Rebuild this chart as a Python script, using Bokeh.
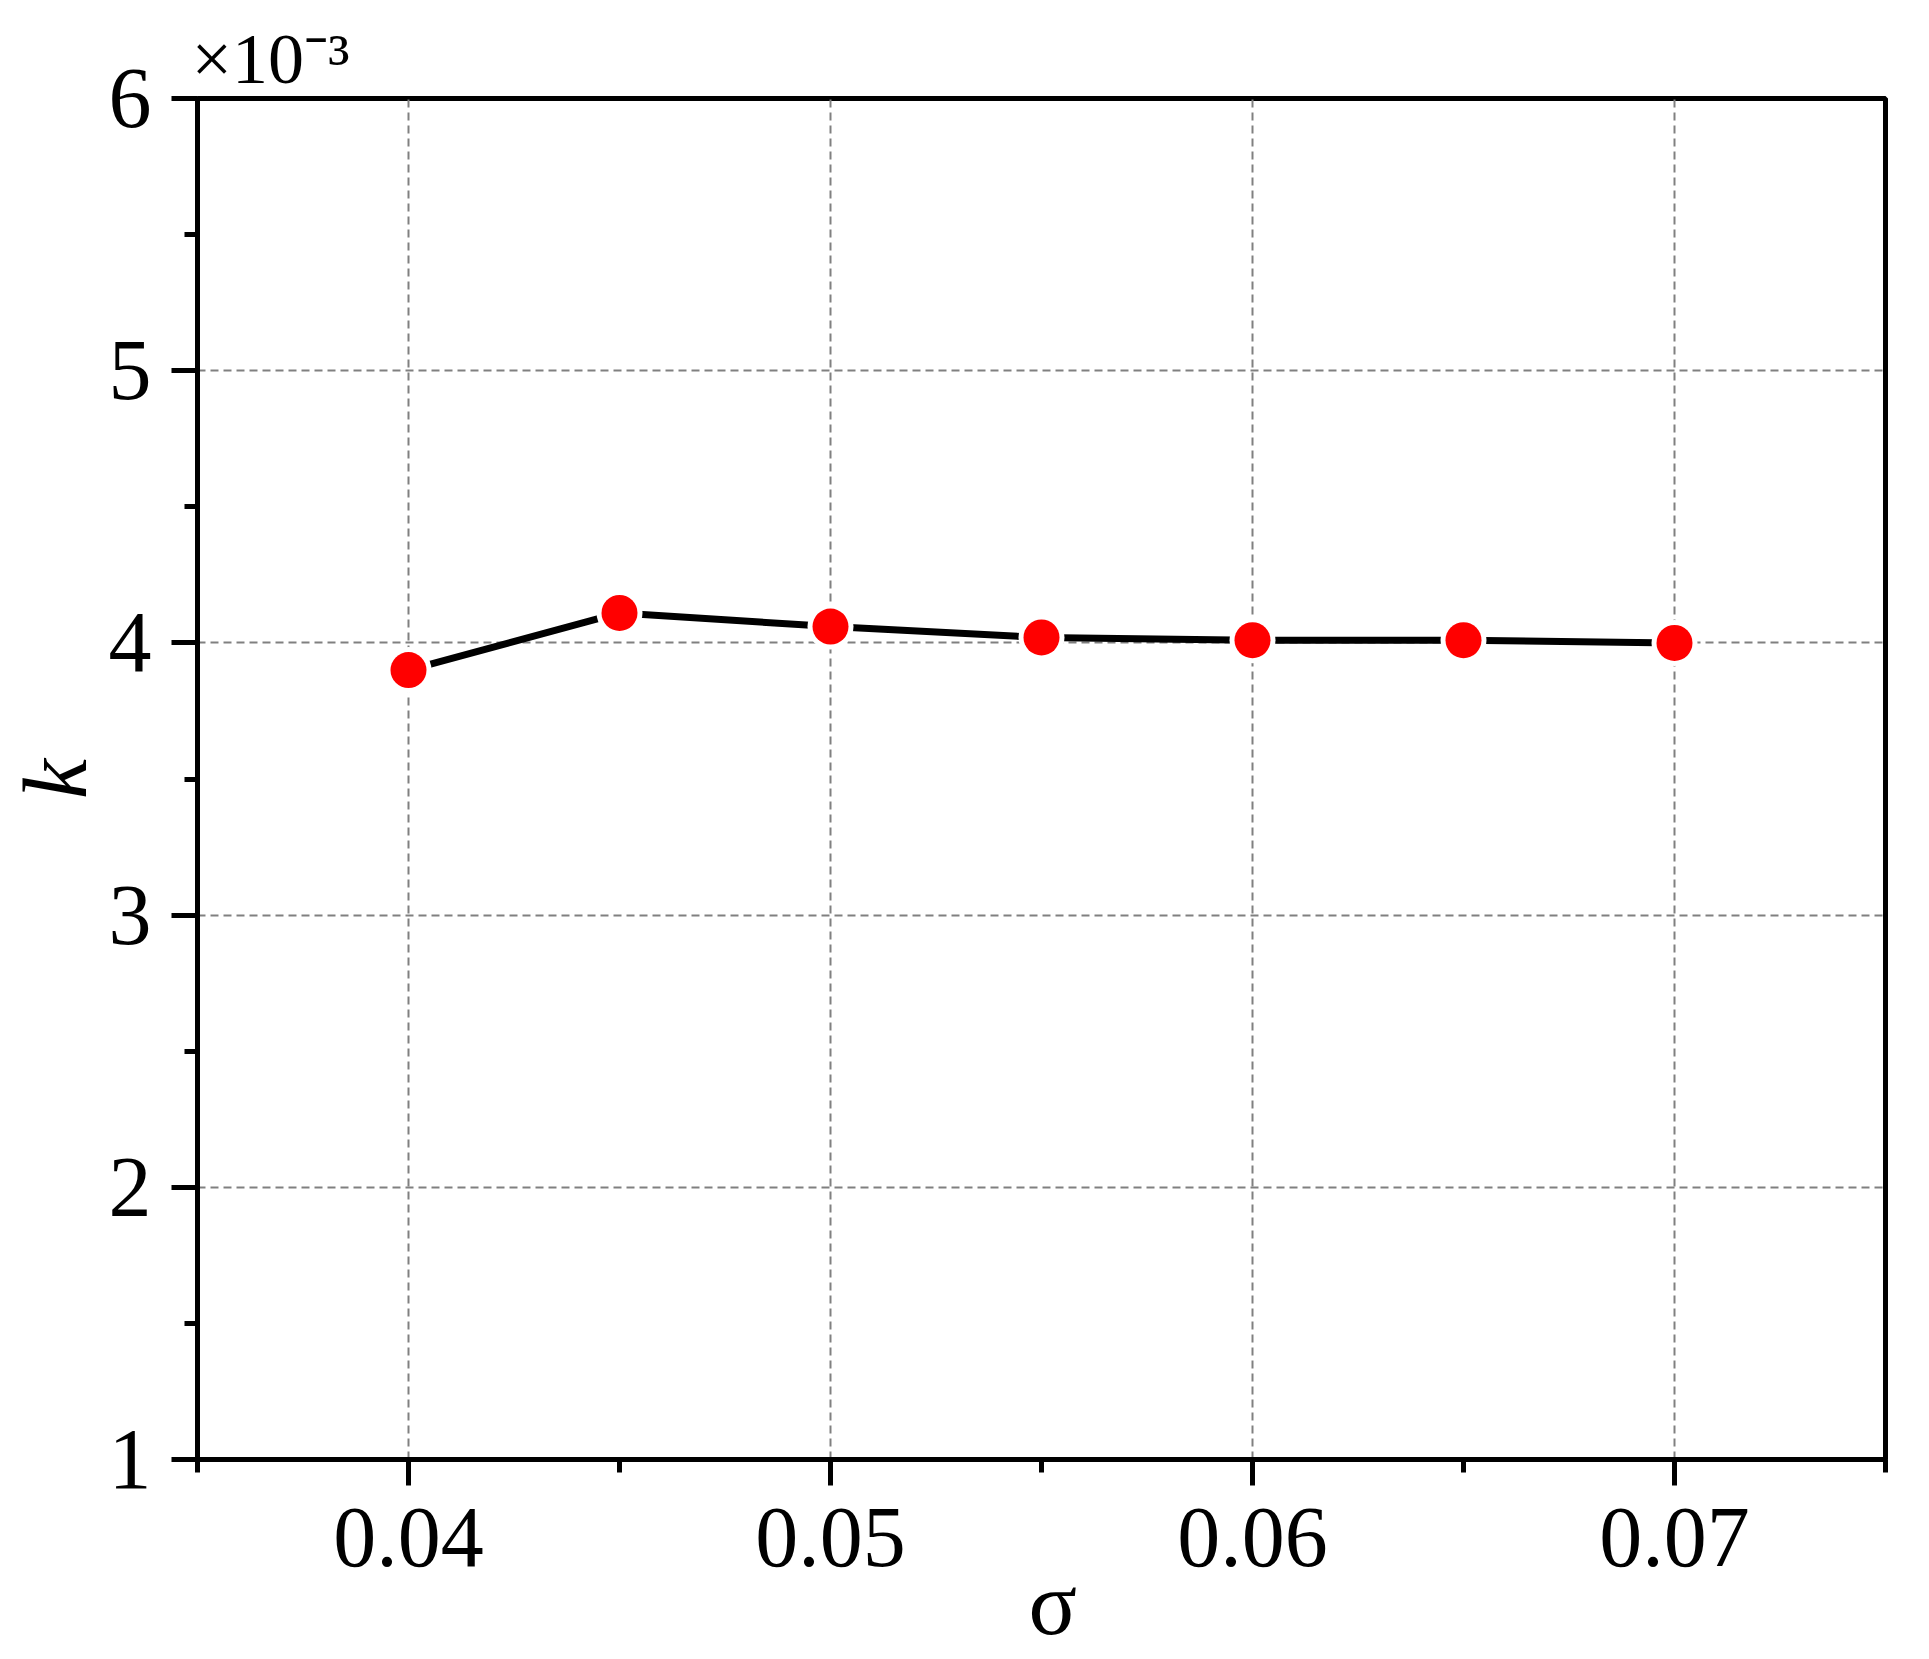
from bokeh.plotting import figure
from bokeh.models import Range1d, FixedTicker, PrintfTickFormatter, Title
from bokeh.embed import file_html
from bokeh.resources import INLINE

# data (k in units of 1e-3)
sigma = [0.04, 0.045, 0.05, 0.055, 0.06, 0.065, 0.07]
k_e3 = [3.90, 4.11, 4.06, 4.02, 4.01, 4.01, 4.00]

x_major = [0.04, 0.05, 0.06, 0.07]
x_minor = [0.035, 0.045, 0.055, 0.065, 0.075]
y_major = [1, 2, 3, 4, 5, 6]
y_minor = [1.5, 2.5, 3.5, 4.5, 5.5]

FONT = "Liberation Serif"

p = figure(width=1929, height=1659, output_backend="svg", toolbar_location=None,
           title=None,
           x_range=Range1d(0.035, 0.075), y_range=Range1d(1, 6),
           min_border_left=197, min_border_right=44, min_border_top=98, min_border_bottom=200)
p.background_fill_color = "white"
p.border_fill_color = "white"
p.outline_line_color = "black"
p.outline_line_width = 5

# axes
for ax in (p.xaxis[0], p.yaxis[0]):
    ax.axis_line_width = 5
    ax.axis_line_color = "black"
    ax.major_tick_line_width = 5
    ax.minor_tick_line_width = 5
    ax.major_tick_line_color = "black"
    ax.minor_tick_line_color = "black"
    ax.major_tick_out = 26
    ax.major_tick_in = 0
    ax.minor_tick_out = 13
    ax.minor_tick_in = 0
    ax.major_label_text_font = FONT
    ax.major_label_text_font_size = "86px"
    ax.major_label_text_color = "black"
    ax.axis_label_text_font = FONT
    ax.axis_label_text_font_size = "90px"
    ax.axis_label_text_color = "black"

p.xaxis[0].ticker = FixedTicker(ticks=x_major, minor_ticks=x_minor)
p.xaxis[0].formatter = PrintfTickFormatter(format="%.2f")
p.xaxis[0].major_label_standoff = 23
p.xaxis[0].axis_label = "\u00a0σ"
p.xaxis[0].axis_label_standoff = -15
p.xaxis[0].axis_label_text_font_style = "normal"

p.yaxis[0].ticker = FixedTicker(ticks=y_major, minor_ticks=y_minor)
p.yaxis[0].formatter = PrintfTickFormatter(format="%d")
p.yaxis[0].major_label_standoff = 20
p.yaxis[0].axis_label = "k"
p.yaxis[0].axis_label_standoff = 1
p.yaxis[0].axis_label_text_font_style = "italic"

# grid
for g in (p.xgrid[0], p.ygrid[0]):
    g.grid_line_color = "#808080"
    g.grid_line_width = 2
    g.grid_line_dash = "8 5"

# data
p.line(sigma, k_e3, line_color="black", line_width=7)
p.scatter(sigma, k_e3, size=46, fill_color="white", line_color=None)
p.scatter(sigma, k_e3, size=36, fill_color="red", line_color=None)

# multiplier of the y axis
p.add_layout(Title(text="×10⁻³", align="left", offset=-6, standoff=0,
                   text_font=FONT, text_font_size="72px", text_font_style="normal",
                   text_color="black"), "above")

open("out.html", "w").write(file_html(p, INLINE))
